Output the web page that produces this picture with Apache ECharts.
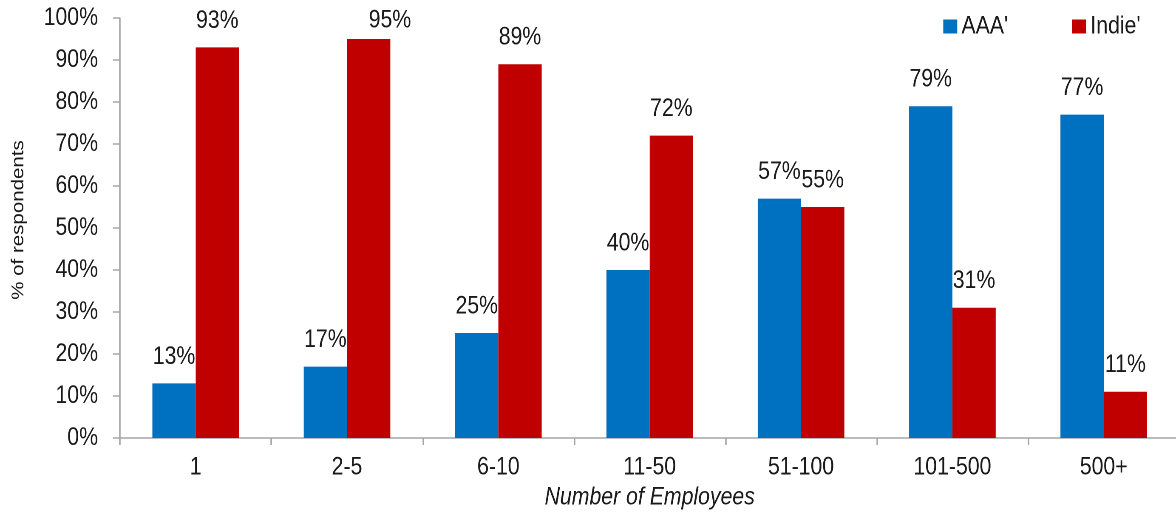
<!DOCTYPE html>
<html><head><meta charset="utf-8">
<script src="https://cdn.jsdelivr.net/npm/echarts@6/dist/echarts.min.js"></script>
<style>
html,body{margin:0;padding:0;background:#fff;overflow:hidden;width:1176px;height:514px}
/* Arial Narrow look: Liberation Sans squeezed horizontally */
#c{height:514px;transform-origin:0 0}
</style>
</head><body><div id="c"></div>
<script>
const categories = ['1','2-5','6-10','11-50','51-100','101-500','500+'];
const aaaValues = [13,17,25,40,57,79,77];
const indieValues = [93,95,89,72,55,31,11];
const yTicks = [0,10,20,30,40,50,60,70,80,90,100];

const SX = 0.85;               // horizontal squeeze of the container
const W = 1176 / SX;
const h = v => v / SX;         // convert a horizontal screen size to chart units
const el = document.getElementById('c');
el.style.width = W + 'px';
el.style.transform = 'scaleX(' + SX + ')';
const FONT = "'Liberation Sans','Arial',sans-serif";
const TXT = '#1a1a1a';
const FS = 25;
const TOP_CLAMP = 8;           // labels are kept inside the chart area, like the source
const chart = echarts.init(el, null, {devicePixelRatio: 2});
const lbl = {show:true, position:'top', distance:14, formatter:'{c}%', fontFamily:FONT, fontSize:FS, color:TXT};
const clamp = p => (p.labelRect.y < TOP_CLAMP ? {y: TOP_CLAMP + p.labelRect.height / 2, verticalAlign:'middle'} : {});
chart.setOption({
  animation:false,
  textStyle:{fontFamily:FONT},
  legend:{left:h(939), top:9, itemWidth:h(14), itemHeight:14, itemGap:h(64), icon:'rect',
    textStyle:{fontFamily:FONT, fontSize:FS, color:TXT}},
  grid:{left:h(120), right:W - h(1179), top:18, bottom:76, outerBoundsMode:'none', containLabel:false},
  xAxis:{type:'category', data:categories,
    name:'Number of Employees', nameLocation:'middle', nameGap:44,
    nameTextStyle:{fontFamily:FONT, fontSize:FS, fontStyle:'italic', color:TXT},
    axisLine:{lineStyle:{color:'#a6a6a6', width:1.5}},
    axisTick:{show:true, length:7, lineStyle:{color:'#a6a6a6', width:h(1.5)}},
    axisLabel:{margin:17, fontFamily:FONT, fontSize:FS, color:TXT}},
  yAxis:{type:'value', min:yTicks[0], max:yTicks[yTicks.length-1], interval:10,
    name:'% of respondents', nameLocation:'middle', nameGap:h(120) - h(25) - 3, nameRotate:90,
    nameTextStyle:{fontFamily:FONT, fontSize:20.5, color:TXT, padding:[0,0,0,16]},
    axisLine:{show:true, lineStyle:{color:'#a6a6a6', width:h(1.5)}},
    axisTick:{show:true, length:h(7), lineStyle:{color:'#a6a6a6', width:1.5}},
    splitLine:{show:false},
    axisLabel:{margin:h(22), formatter:'{value}%', fontFamily:FONT, fontSize:FS, color:TXT}},
  series:[
    {name:"AAA'", type:'bar', data:aaaValues, barWidth:h(43.3), barGap:'0%', itemStyle:{color:'#0070C0'}, label:lbl, labelLayout:clamp},
    {name:"Indie'", type:'bar', data:indieValues, barWidth:h(43.3), barGap:'0%', itemStyle:{color:'#C00000'}, label:lbl, labelLayout:clamp}
  ]
});
</script></body></html>
